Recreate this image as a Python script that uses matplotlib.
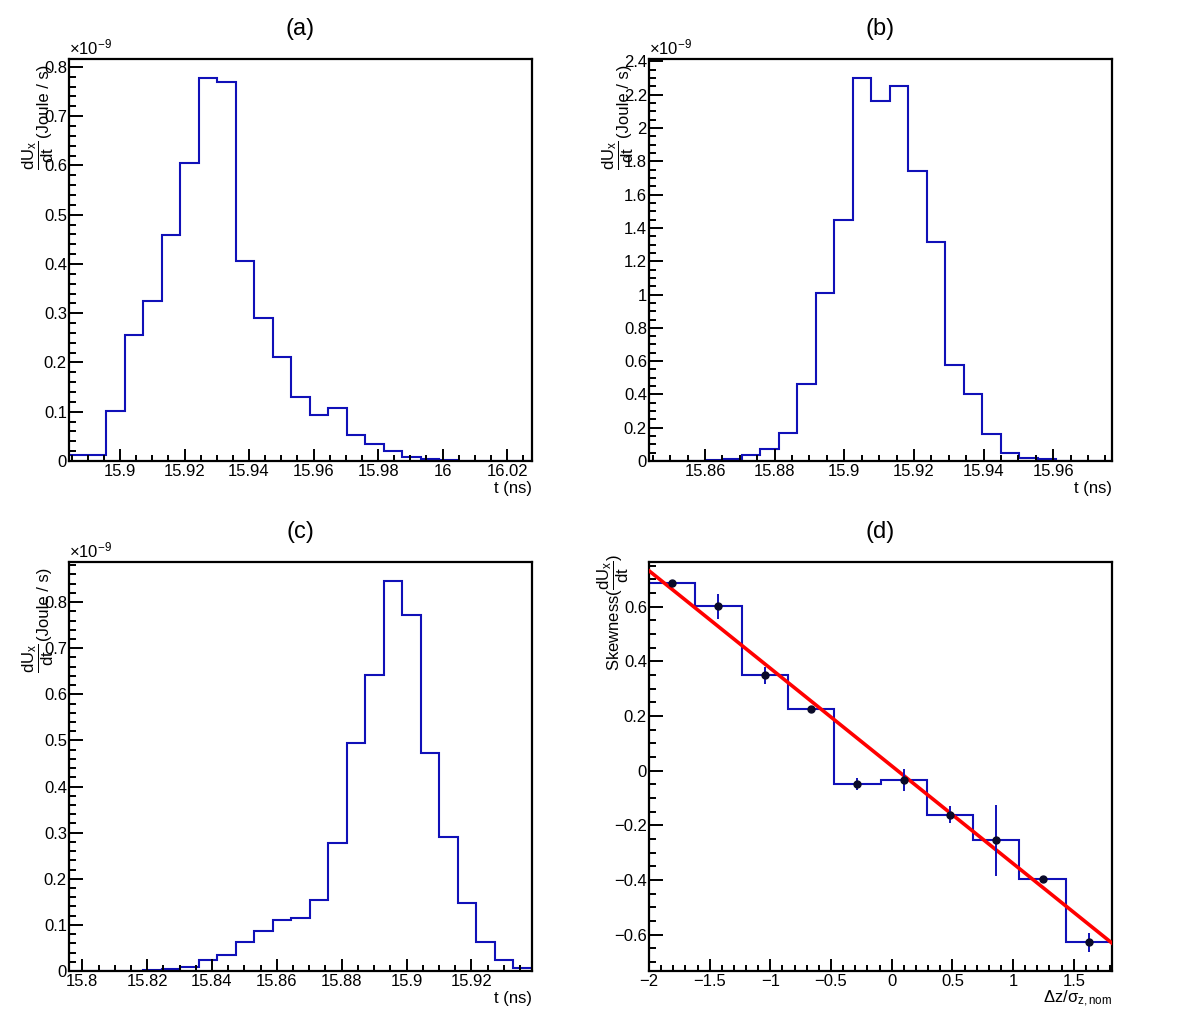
import numpy as np
import matplotlib
matplotlib.use('Agg')
import matplotlib.pyplot as plt
from matplotlib.ticker import MultipleLocator, FuncFormatter

plt.rcParams['font.family'] = ['Liberation Sans', 'DejaVu Sans']
plt.rcParams['mathtext.fontset'] = 'custom'
plt.rcParams['mathtext.rm'] = 'Liberation Sans'
plt.rcParams['mathtext.it'] = 'Liberation Sans'
plt.rcParams['mathtext.bf'] = 'Liberation Sans:bold'

# ---------------- data ----------------
n_bins = 25

# (a) power vs time, units of 1e-9 J/s
t_range_a = (15.8842, 16.0277)
power_a = [0.012, 0.012, 0.102, 0.255, 0.325, 0.458, 0.605, 0.777, 0.770, 0.405,
           0.290, 0.212, 0.129, 0.094, 0.108, 0.053, 0.035, 0.020, 0.009, 0.005,
           0.003, 0.001, 0.0005, 0.0, 0.0]
ymax_a = 0.816

# (b)
t_range_b = (15.8439, 15.9769)
power_b = [0.0, 0.0, 0.002, 0.005, 0.015, 0.035, 0.075, 0.17, 0.46, 1.01,
           1.445, 2.30, 2.16, 2.25, 1.745, 1.315, 0.575, 0.40, 0.16, 0.05,
           0.02, 0.01, 0.003, 0.001, 0.0005]
ymax_b = 2.415

# (c)
t_range_c = (15.7959, 15.9387)
power_c = [0.001, 0.001, 0.0005, 0.001, 0.002, 0.004, 0.008, 0.023, 0.034, 0.063,
           0.087, 0.110, 0.115, 0.155, 0.278, 0.495, 0.643, 0.845, 0.773, 0.472,
           0.290, 0.147, 0.062, 0.023, 0.006]
ymax_c = 0.887

# (d) skewness vs bunch length offset
dz_range = (-2.0, 1.815)
n_dz_bins = 10
skewness = [0.685, 0.601, 0.349, 0.224, -0.050, -0.034, -0.161, -0.254, -0.398, -0.628]
skewness_err = [0.004, 0.046, 0.031, 0.005, 0.022, 0.040, 0.030, 0.130, 0.005, 0.035]
fit_slope = -0.357
fit_intercept = 0.017
ylim_d = (-0.733, 0.763)

# ---------------- style ----------------
W, H = 1182, 1023
hist_color = '#1010b8'
marker_color = '#0a0a28'
fit_color = '#ff0000'
FS = 12

fig = plt.figure(figsize=(W / 100, H / 100), dpi=100)


def px_axes(left, top, right, bottom):
    return fig.add_axes([left / W, 1 - bottom / H, (right - left) / W, (bottom - top) / H])


def fmt(v, pos):
    if abs(v) < 1e-9:
        return '0'
    return f'{round(v, 6):g}'.replace('-', '\u2212')


def style(ax, xmaj, xmin, ymaj, ymin):
    for s in ax.spines.values():
        s.set_linewidth(1.6)
    ax.xaxis.set_major_locator(MultipleLocator(xmaj))
    ax.xaxis.set_minor_locator(MultipleLocator(xmin))
    ax.yaxis.set_major_locator(MultipleLocator(ymaj))
    ax.yaxis.set_minor_locator(MultipleLocator(ymin))
    ax.xaxis.set_major_formatter(FuncFormatter(fmt))
    ax.yaxis.set_major_formatter(FuncFormatter(fmt))
    ax.tick_params(axis='both', which='both', direction='in', top=False, right=False,
                   width=1.4, labelsize=FS)
    ax.tick_params(axis='x', which='major', length=8.6, pad=2.5)
    ax.tick_params(axis='x', which='minor', length=4.3)
    ax.tick_params(axis='y', which='major', length=10, pad=1.5)
    ax.tick_params(axis='y', which='minor', length=5)


def at_px(ax, box, dx, dy):
    """Axes coords for a pixel offset (dx right of left edge, dy below top edge)."""
    wpx = box[2] - box[0]
    hpx = box[3] - box[1]
    return dx / wpx, 1 - dy / hpx


frac_power = r'$\dfrac{dU_{x}}{dt}$'

panels = [
    ('(a)', (69, 59, 532, 461), t_range_a, power_a, ymax_a, (0.02, 0.005, 0.1, 0.02)),
    ('(b)', (649, 59, 1112, 461), t_range_b, power_b, ymax_b, (0.02, 0.005, 0.2, 0.05)),
    ('(c)', (69, 562, 532, 971), t_range_c, power_c, ymax_c, (0.02, 0.005, 0.1, 0.02)),
]

for title, box, trange, vals, ymax, ticks in panels:
    ax = px_axes(*box)
    edges = np.linspace(trange[0], trange[1], n_bins + 1)
    ax.stairs(vals, edges, baseline=None, color=hist_color, linewidth=1.5)
    ax.set_xlim(trange)
    ax.set_ylim(0, ymax)
    style(ax, *ticks)
    hpx = box[3] - box[1]
    ax.text(1.0, -20 / hpx, 't (ns)', transform=ax.transAxes, ha='right', va='top', fontsize=FS)
    # y title: fraction + unit, ROOT-like placement (overlapping tick labels)
    fx, fy = at_px(ax, box, -31, 96)
    ax.text(fx, fy, frac_power, transform=ax.transAxes, rotation=90,
            ha='center', va='center', fontsize=FS)
    jx, jy = at_px(ax, box, -24, 42)
    ax.text(jx, jy, '(Joule / s)', transform=ax.transAxes, rotation=90,
            ha='center', va='center', fontsize=FS)
    ax.text(0.0, 1.004, '×10$^{-9}$', transform=ax.transAxes, ha='left', va='bottom', fontsize=FS)
    fig.text(((box[0] + box[2]) / 2) / W, 1 - (box[1] - 30) / H, title,
             ha='center', va='center', fontsize=17)

# (d)
box = (649, 562, 1112, 971)
ax = px_axes(*box)
dz_edges = np.linspace(dz_range[0], dz_range[1], n_dz_bins + 1)
dz_centers = 0.5 * (dz_edges[:-1] + dz_edges[1:])
ax.stairs(skewness, dz_edges, baseline=None, color=hist_color, linewidth=1.5, zorder=2)
fit_x = np.array(dz_range)
ax.plot(fit_x, fit_slope * fit_x + fit_intercept, color=fit_color, linewidth=2.6, zorder=3)
ax.errorbar(dz_centers, skewness, yerr=skewness_err, fmt='o', color=marker_color,
            ecolor=hist_color, elinewidth=1.4, markersize=5, capsize=0, zorder=4)
ax.set_xlim(dz_range)
ax.set_ylim(ylim_d)
style(ax, 0.5, 0.1, 0.2, 0.05)
hpx = box[3] - box[1]
ax.text(1.0, -18 / hpx, r'Δz/σ$_{\mathrm{z,nom}}$', transform=ax.transAxes,
        ha='right', va='top', fontsize=FS)
sx, sy = at_px(ax, box, -36, 50)
ax.text(sx, sy, r'Skewness($\dfrac{dU_{x}}{dt}$)', transform=ax.transAxes,
        rotation=90, ha='center', va='center', fontsize=FS)
fig.text(((box[0] + box[2]) / 2) / W, 1 - (box[1] - 30) / H, '(d)',
         ha='center', va='center', fontsize=17)

fig.savefig('out.png', dpi=100, facecolor='white')
